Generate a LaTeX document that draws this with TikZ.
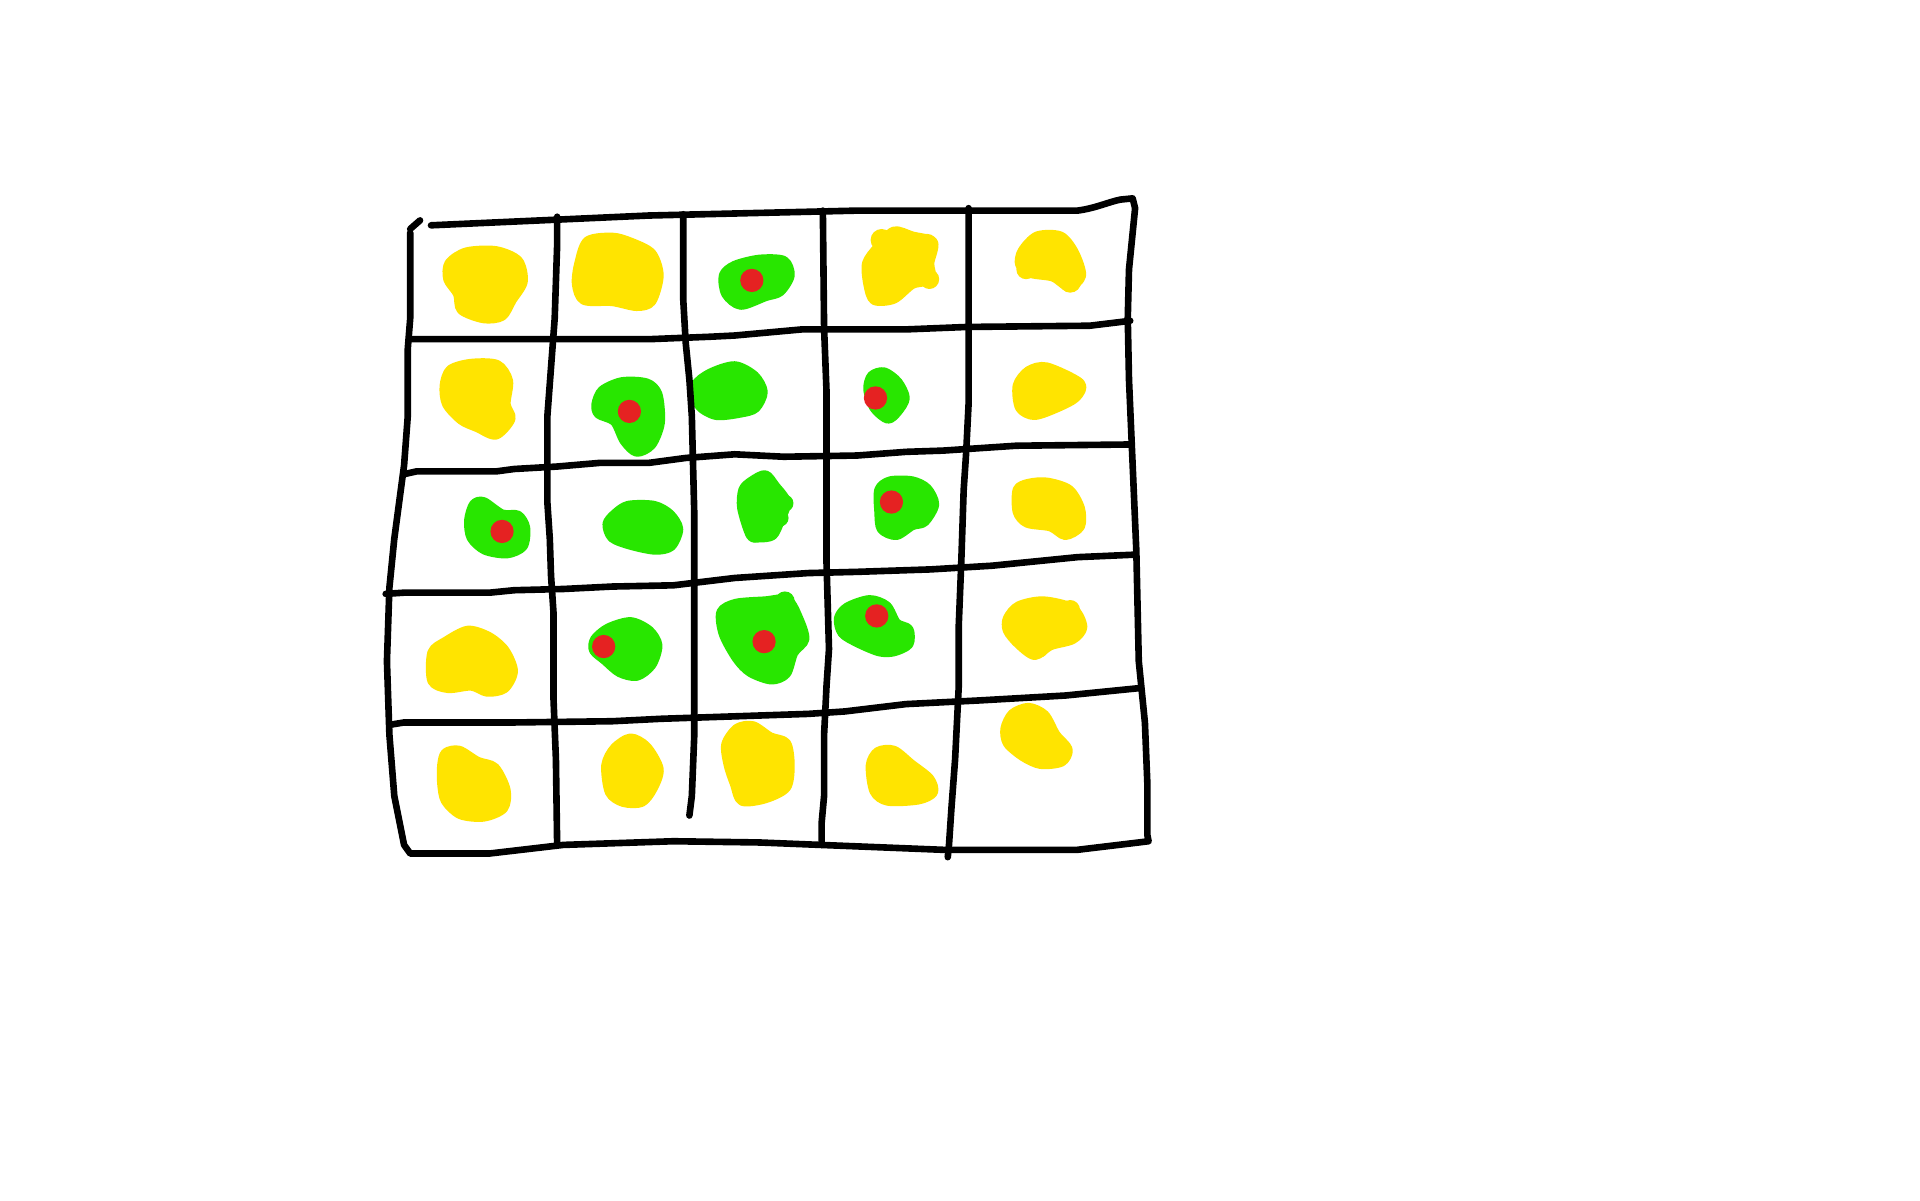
\documentclass[tikz,border=0pt]{standalone}
\begin{document}
\begin{tikzpicture}[x=1pt,y=-1pt,
  pen/.style={line width=5.4pt,line cap=round,line join=round,black},
  yb/.style={fill=blobyellow,draw=blobyellow,line width=8pt,line join=round},
  gb/.style={fill=blobgreen,draw=blobgreen,line width=8pt,line join=round},
  dot/.style={fill=dotred}]
\definecolor{blobyellow}{HTML}{FFE400}
\definecolor{blobgreen}{HTML}{28E600}
\definecolor{dotred}{HTML}{E52222}
\useasboundingbox[fill=white] (0,0) rectangle (1568,980);
% ---------- blobs ----------
% row 1
\filldraw[yb] plot[smooth cycle] coordinates{(367,215)(381,206)(405,205)(423,213)(427,230)(418,245)(410,258)(395,260)(377,253)(374,240)(366,228)};
\filldraw[yb] plot[smooth cycle] coordinates{(473,215)(480,197)(500,194)(515,198)(532,207)(538,225)(532,246)(520,250)(500,246)(477,245)(471,232)};
\filldraw[gb] plot[smooth cycle] coordinates{(591,225)(600,217)(620,212)(640,213)(645,225)(637,238)(625,242)(605,249)(593,240)};
\filldraw[yb] plot[smooth cycle] coordinates{(708,215)(717,202)(730,189)(745,193)(762,198)(759,215)(760,228)(745,232)(730,244)(714,245)(709,232)};
\fill[blobyellow] (720,196) circle (9) (757,200) circle (9) (759,228) circle (8);
\filldraw[yb] plot[smooth cycle] coordinates{(835,205)(847,193)(866,193)(877,206)(883,225)(873,234)(860,226)(842,223)(833,216)};
\fill[blobyellow] (838,220) circle (8) (874,230) circle (9);
% row 2
\filldraw[yb] plot[smooth cycle] coordinates{(363,315)(368,302)(385,297)(406,298)(415,311)(413,330)(417,342)(405,355)(390,349)(377,343)(365,330)};
\filldraw[gb] plot[smooth cycle] coordinates{(487,330)(492,319)(508,312)(528,313)(537,322)(539,345)(532,363)(520,369)(510,360)(502,344)(489,338)};
\filldraw[gb] plot[smooth cycle] coordinates{(568,315)(580,305)(600,299)(616,307)(623,320)(617,333)(605,337)(585,339)(571,331)};
\filldraw[gb] plot[smooth cycle] coordinates{(709,318)(712,307)(722,304)(733,312)(739,325)(733,336)(725,342)(714,333)};
\filldraw[yb] plot[smooth cycle] coordinates{(831,315)(840,303)(855,300)(882,313)(879,324)(865,332)(845,339)(833,333)};
% row 3
\filldraw[gb] plot[smooth cycle] coordinates{(383,425)(387,412)(395,410)(410,420)(423,421)(429,431)(427,446)(414,452)(396,449)(385,439)};
\filldraw[gb] plot[smooth cycle] coordinates{(496,428)(502,420)(513,413)(534,413)(547,420)(554,432)(548,446)(535,449)(515,445)(500,439)};
\filldraw[gb] plot[smooth cycle] coordinates{(607,400)(614,393)(625,388)(633,397)(642,410)(637,425)(631,437)(620,439)(613,437)(606,415)};
\fill[blobgreen] (641,411) circle (7) (637,423) circle (7);
\filldraw[gb] plot[smooth cycle] coordinates{(718,400)(727,393)(745,393)(757,399)(763,412)(755,426)(745,429)(732,437)(720,432)(718,418)};
\filldraw[yb] plot[smooth cycle] coordinates{(831,400)(840,395)(855,394)(873,400)(882,415)(882,430)(870,437)(858,430)(839,427)(831,418)};
% row 4
\filldraw[yb] plot[smooth cycle] coordinates{(353,533)(364,524)(382,515)(399,520)(412,531)(419,548)(412,562)(398,565)(385,560)(366,562)(353,556)};
\filldraw[gb] plot[smooth cycle] coordinates{(486,522)(497,513)(515,508)(530,515)(537,527)(532,543)(520,552)(506,549)(494,539)(485,531)};
\filldraw[gb] plot[smooth cycle] coordinates{(589,500)(601,493)(625,491)(643,490)(652,505)(657,522)(648,533)(642,550)(630,555)(613,549)(602,538)(591,518)};
\fill[blobgreen] (641,491) circle (8);
\filldraw[gb] plot[smooth cycle] coordinates{(685,505)(692,496)(710,490)(724,495)(732,509)(742,514)(742,526)(730,532)(718,532)(701,525)(688,517)};
\filldraw[yb] plot[smooth cycle] coordinates{(823,505)(832,495)(852,491)(876,497)(884,512)(876,522)(858,527)(845,535)(832,526)(823,515)};
\fill[blobyellow] (874,498) circle (8) (849,530) circle (7);
% row 5
\filldraw[yb] plot[smooth cycle] coordinates{(361,625)(364,615)(375,613)(390,622)(404,627)(413,645)(411,660)(395,667)(376,665)(364,654)(361,640)};
\fill[blobyellow] (400,630) circle (8);
\filldraw[yb] plot[smooth cycle] coordinates{(495,625)(502,611)(515,603)(528,610)(538,628)(533,644)(524,655)(509,655)(498,647)};
\filldraw[yb] plot[smooth cycle] coordinates{(593,608)(602,595)(615,593)(629,602)(642,607)(645,625)(642,643)(625,652)(606,654)(600,640)(595,625)};
\filldraw[yb] plot[smooth cycle] coordinates{(711,625)(717,614)(730,613)(744,624)(759,636)(762,647)(750,653)(725,654)(714,646)};
\filldraw[yb] plot[smooth cycle] coordinates{(821,595)(827,583)(840,578)(853,584)(862,600)(872,612)(867,622)(850,624)(836,618)(823,607)};
% red dots
\foreach \p in {(614,229),(514,336),(715,325),(410,434),(728,410),(493,528),(624,524),(716,503)}
  \fill[dot] \p circle (9.5);
% ---------- grid lines ----------
\draw[pen] (335,187) -- (343,180);
\draw[pen] (352,184) -- (530,176) -- (700,172) -- (880,172) .. controls (895,170) and (905,165) .. (915,163) -- (925,162) -- (927,170) -- (922,220) -- (921,260) -- (922,310) -- (925,380) -- (928,450) -- (930,540) -- (935,590) -- (937,640) -- (937,682) -- (938,687) -- (930,688) -- (880,694) -- (770,694) -- (620,688) -- (550,687) -- (460,690) -- (400,697) -- (335,697) -- (330,690) -- (322,650) -- (318,600) -- (316,540) -- (318,480) -- (322,440) -- (330,380) -- (333,340) -- (333,285) -- (335,260) -- (335,190);
% horizontals
\draw[pen] (335,277) -- (530,277) -- (580,275) -- (600,274) -- (655,269) -- (740,269) -- (790,267) -- (890,266) -- (923,262);
\draw[pen] (331,387) -- (340,385) -- (405,385) -- (420,383) -- (455,381) -- (490,378) -- (530,378) -- (560,374) -- (600,371) -- (640,373) -- (700,372) -- (740,369) -- (770,368) -- (830,364) -- (922,363);
\draw[pen] (315,485) -- (330,484) -- (400,484) -- (420,482) -- (460,481) -- (500,479) -- (550,478) -- (600,472) -- (660,468) -- (700,467) -- (760,465) -- (810,462) -- (850,458) -- (880,455) -- (926,453);
\draw[pen] (318,592) -- (330,590) -- (420,590) -- (500,589) -- (540,587) -- (600,585) -- (660,583) -- (690,581) -- (740,575) -- (800,572) -- (870,568) -- (930,562);
% verticals
\draw[pen] (455,177) -- (455,200) -- (453,260) -- (450,300) -- (447,340) -- (447,410) -- (449,440) -- (450,470) -- (452,500) -- (452,570) -- (454,620) -- (455,690);
\draw[pen] (558,175) -- (558,245) -- (560,280) -- (563,310) -- (565,340) -- (566,380) -- (567,420) -- (567,600) -- (565,650) -- (563,666);
\draw[pen] (672,172) -- (673,268) -- (675,320) -- (675,460) -- (677,530) -- (675,560) -- (673,600) -- (673,650) -- (671,672) -- (671,690);
\draw[pen] (791,170) -- (791,330) -- (789,370) -- (787,400) -- (785,460) -- (783,510) -- (783,560) -- (780,620) -- (777,660) -- (775,690) -- (774,700);
\end{tikzpicture}
\end{document}
